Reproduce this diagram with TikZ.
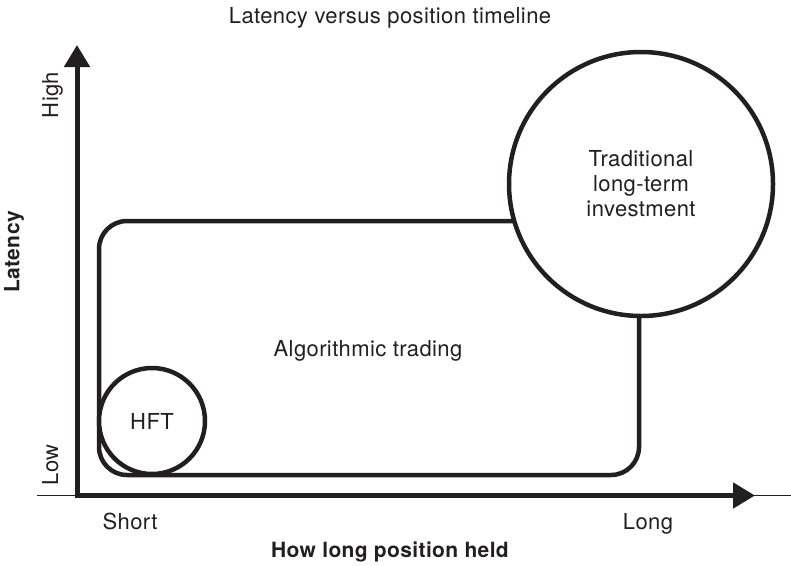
\documentclass[tikz,border=0pt]{standalone}
\usepackage{fontspec}
\setmainfont{TeX Gyre Heros}[LetterSpace=1.8]
\usetikzlibrary{arrows.meta}
\definecolor{ink}{HTML}{231F20}
\begin{document}
\begin{tikzpicture}[x=1pt,y=-1pt,
  lbl/.style={font=\fontsize{22}{25}\selectfont, text=ink, inner sep=0pt, align=center},
  boldlbl/.style={font=\fontsize{21}{25}\selectfont\bfseries, text=ink, inner sep=0pt},
  axis/.style={draw=ink, line width=5pt, line join=miter, {Triangle[length=22pt,width=25pt]}-{Triangle[length=22pt,width=25pt]}},
  region/.style={draw=ink, line width=4.5pt, inner sep=0pt},
  thin/.style={draw=ink, line width=1pt}]
\useasboundingbox (0,0) rectangle (791,565);

% axes
\coordinate (tl) at (37,495.5);
\coordinate (tr) at (791,495.5);
\coordinate (origin) at (77,495.5);
\coordinate (ytip) at (77,45);
\coordinate (xtip) at (755,495.5);
\draw[thin] (tl) -- (tr);
\draw[axis] (ytip) -- (origin) -- (xtip);

% regions
\node[region, rounded corners=28pt, minimum width=540pt, minimum height=254pt] (algo) at (369,348) {};
\node[region, circle, fill=white, minimum size=106pt, lbl] (hft) at (152,421) {HFT};
\node[region, circle, fill=white, minimum size=264pt, lbl] (trad) at (641,184) {Traditional\\long-term\\investment};

% labels
\node[lbl, anchor=base] (title) at (390,23) {Latency versus position timeline};
\node[lbl, anchor=base] (algolbl) at (368,356) {Algorithmic trading};
\node[lbl, anchor=base, rotate=90] (high) at (58,95) {High};
\node[lbl, anchor=base, rotate=90] (low) at (58,465) {Low};
\node[boldlbl, anchor=base, rotate=90] (latency) at (19.5,252) {Latency};
\node[lbl, anchor=base] (short) at (130,529) {Short};
\node[lbl, anchor=base] (long) at (648,529) {Long};
\node[boldlbl, anchor=base] (held) at (390,557) {How long position held};
\end{tikzpicture}
\end{document}
